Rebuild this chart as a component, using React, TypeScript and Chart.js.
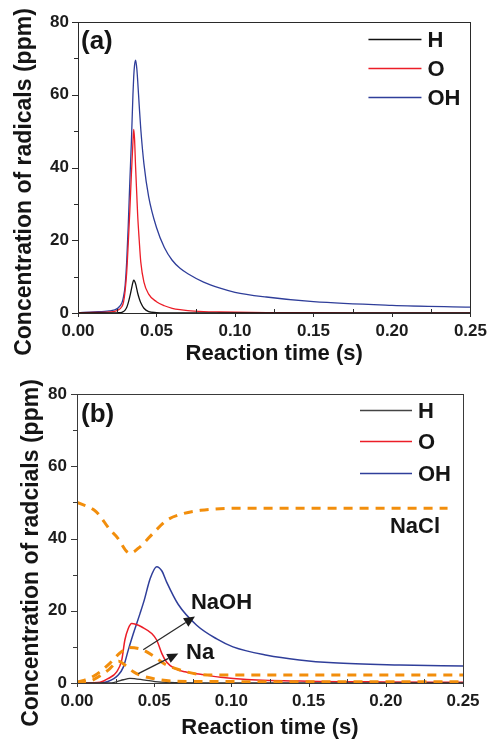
import { useEffect, useRef } from "react";
import { Chart, registerables } from "chart.js";

Chart.register(...registerables);

const FONT = "'Liberation Sans', Arial, Helvetica, sans-serif";

// ---------- Panel (a) ----------
const timeA = [0, 0.01, 0.02, 0.025, 0.028, 0.029, 0.03, 0.031, 0.032, 0.033, 0.034, 0.035, 0.0355, 0.036, 0.0367, 0.0375, 0.038, 0.039, 0.04, 0.042, 0.045, 0.05, 0.055, 0.06, 0.065, 0.07, 0.08, 0.09, 0.1, 0.12, 0.15, 0.2, 0.25];
const hA = [0, 0, 0, 0.05, 0.2, 0.4, 0.8, 1.5, 2.8, 4.5, 6.5, 8.5, 9, 8.8, 8, 6.5, 5.5, 4, 2.8, 1.3, 0.4, 0.1, 0, 0, 0, 0, 0, 0, 0, 0, 0, 0, 0];
const oA = [0.1, 0.15, 0.3, 0.7, 1.8, 3, 6, 11, 19, 28, 38, 47, 50.5, 48, 40, 32, 27, 20, 14, 8.5, 5.2, 3.1, 2, 1.3, 0.9, 0.65, 0.4, 0.28, 0.2, 0.12, 0.08, 0.05, 0.03];
const ohA = [0.1, 0.3, 0.6, 1.2, 2.8, 4.5, 7.5, 14, 24, 36, 47, 60, 65, 68, 69.5, 67, 64, 57, 50.5, 41, 32, 23.5, 18, 14.5, 12.3, 10.8, 8.5, 6.9, 5.7, 4.4, 3.1, 2.1, 1.6];

// ---------- Panel (b) ----------
const timeHB = [0, 0.02, 0.0224, 0.026, 0.03, 0.0343, 0.044, 0.0505, 0.06, 0.08, 0.25];
const hB = [0, 0, 0.05, 0.4, 0.9, 1.3, 0.8, 0.4, 0.15, 0.05, 0];
const timeOB = [0, 0.01, 0.015, 0.02, 0.0257, 0.029, 0.031, 0.0332, 0.0354, 0.0385, 0.042, 0.0484, 0.0516, 0.0549, 0.058, 0.0634, 0.07, 0.08, 0.093, 0.11, 0.15, 0.2, 0.25];
const oB = [0, 0.05, 0.2, 1.2, 3.1, 6.4, 11.9, 15.1, 16.5, 16.2, 15.5, 13.7, 11.9, 8.2, 5.8, 4, 3.1, 2.4, 1.6, 1.0, 0.5, 0.3, 0.2];
const timeOHB = [0, 0.015, 0.02, 0.0267, 0.03, 0.0332, 0.0365, 0.0408, 0.0436, 0.0473, 0.0516, 0.055, 0.058, 0.0655, 0.0775, 0.0905, 0.101, 0.123, 0.144, 0.166, 0.209, 0.25];
const ohB = [0, 0.1, 0.4, 2.2, 4.4, 9.1, 13.7, 19.2, 23, 28.8, 32.2, 31, 28, 21.8, 16, 12.2, 10, 7.7, 6.4, 5.6, 5, 4.7];
const timeNaClB = [0, 0.0125, 0.0214, 0.0257, 0.0343, 0.0408, 0.0494, 0.058, 0.068, 0.08, 0.112, 0.24];
const naclB = [50, 47.4, 42.4, 40.5, 35.9, 37.7, 41.5, 45, 46.8, 47.8, 48.4, 48.4];
const timeNaOHB = [0, 0.005, 0.012, 0.0214, 0.0278, 0.034, 0.0419, 0.0494, 0.057, 0.0667, 0.0775, 0.0905, 0.25];
const naohB = [0.3, 0.8, 2.2, 5.5, 8.3, 9.8, 9.3, 7.5, 5.2, 3.6, 2.5, 2.2, 2.2];
const timeNaB = [0, 0.01, 0.02, 0.027, 0.031, 0.0365, 0.042, 0.0484, 0.0613, 0.08, 0.25];
const naB = [0, 0.8, 3.5, 6, 5, 3.1, 2, 1.3, 0.55, 0.4, 0.35];

// ---------- Axes / labels ----------
const xTicks = [0, 0.05, 0.1, 0.15, 0.2, 0.25];
const yTicks = [0, 20, 40, 60, 80];
const legendLabels = ["H", "O", "OH"];
const xTitle = "Reaction time (s)";
const yTitleA = "Concentration of radicals (ppm)";
const yTitleB = "Concentration of radcials (ppm)";
const speciesNotes = ["NaOH", "Na", "NaCl"];
// note anchors in data units [x, y]
const noteNaOH = [0.0738, 22.1];
const noteNa = [0.0706, 8.4];
const noteNaCl = [0.2027, 43.2];
// arrows in data units [x0, y0, x1, y1]
const arrowNaOH = [0.0429, 9.2, 0.0764, 18.4];
const arrowNa = [0.0397, 2.6, 0.0656, 8.2];

const RED = "#ec1d27";
const BLUE = "#2f3e9a";
const ORANGE = "#f28e0c";

function series(t: number[], v: number[]) {
  return t.map((x, i) => ({ x, y: v[i] }));
}

type Decor = {
  legendColors: string[];
  legendLine: [number, number];
  legendText: number;
  legendRows: number[];
  panel: string;
  panelPos: [number, number];
  yTitle: string;
  yTitlePos: [number, number];
  notes: { text: string; at: number[] }[];
  arrows: number[][];
  frame: string;
};

function decorPlugin(d: Decor) {
  return {
    id: "decor",
    afterDraw(chart: any) {
      const { ctx, chartArea: ca, scales } = chart;
      const xs = scales.x;
      const ys = scales.y;
      ctx.save();
      // frame
      ctx.strokeStyle = d.frame;
      ctx.lineWidth = 1;
      ctx.strokeRect(Math.round(ca.left) + 0.5, Math.round(ca.top) + 0.5, Math.round(ca.right - ca.left), Math.round(ca.bottom - ca.top));
      // ticks
      ctx.beginPath();
      for (let i = 0; i < xTicks.length; i++) {
        const px = Math.round(xs.getPixelForValue(xTicks[i])) + 0.5;
        ctx.moveTo(px, ca.bottom);
        ctx.lineTo(px, ca.bottom + 4);
        if (i < xTicks.length - 1) {
          const mx = Math.round(xs.getPixelForValue((xTicks[i] + xTicks[i + 1]) / 2)) + 0.5;
          ctx.moveTo(mx, ca.bottom);
          ctx.lineTo(mx, ca.bottom - 4);
        }
      }
      for (let i = 0; i < yTicks.length; i++) {
        const py = Math.round(ys.getPixelForValue(yTicks[i])) + 0.5;
        ctx.moveTo(ca.left, py);
        ctx.lineTo(ca.left - 6, py);
        if (i < yTicks.length - 1) {
          const my = Math.round(ys.getPixelForValue((yTicks[i] + yTicks[i + 1]) / 2)) + 0.5;
          ctx.moveTo(ca.left, my);
          ctx.lineTo(ca.left - 4, my);
        }
      }
      ctx.stroke();
      // legend
      ctx.textBaseline = "middle";
      ctx.textAlign = "left";
      ctx.font = `bold 22px ${FONT}`;
      legendLabels.forEach((lab, i) => {
        const y = ca.top + d.legendRows[i] + 0.5;
        ctx.strokeStyle = d.legendColors[i];
        ctx.lineWidth = 1.4;
        ctx.beginPath();
        ctx.moveTo(ca.right - d.legendLine[0], y);
        ctx.lineTo(ca.right - d.legendLine[1], y);
        ctx.stroke();
        ctx.fillStyle = "#151515";
        ctx.fillText(lab, ca.right - d.legendText, y + 1);
      });
      // panel label
      ctx.font = `bold 26px ${FONT}`;
      ctx.fillText(d.panel, ca.left + d.panelPos[0], ca.top + d.panelPos[1]);
      // notes
      ctx.font = `bold 22px ${FONT}`;
      d.notes.forEach((n) => {
        ctx.fillText(n.text, xs.getPixelForValue(n.at[0]), ys.getPixelForValue(n.at[1]));
      });
      // arrows
      ctx.strokeStyle = "#2a2a2a";
      ctx.fillStyle = "#1a1a1a";
      ctx.lineWidth = 1.3;
      d.arrows.forEach((a) => {
        const x0 = xs.getPixelForValue(a[0]);
        const y0 = ys.getPixelForValue(a[1]);
        const x1 = xs.getPixelForValue(a[2]);
        const y1 = ys.getPixelForValue(a[3]);
        const ang = Math.atan2(y1 - y0, x1 - x0);
        const L = 11;
        const W = 5;
        const bx = x1 - L * Math.cos(ang);
        const by = y1 - L * Math.sin(ang);
        ctx.beginPath();
        ctx.moveTo(x0, y0);
        ctx.lineTo(bx, by);
        ctx.stroke();
        ctx.beginPath();
        ctx.moveTo(x1, y1);
        ctx.lineTo(bx + W * Math.sin(ang), by - W * Math.cos(ang));
        ctx.lineTo(bx - W * Math.sin(ang), by + W * Math.cos(ang));
        ctx.closePath();
        ctx.fill();
      });
      // y title
      ctx.fillStyle = "#151515";
      ctx.font = `bold 23px ${FONT}`;
      ctx.textAlign = "center";
      ctx.translate(d.yTitlePos[0], d.yTitlePos[1]);
      ctx.rotate(-Math.PI / 2);
      ctx.fillText(d.yTitle, 0, 0);
      ctx.restore();
    },
  };
}

function makeOptions(pad: { top: number; right: number }, yWidth: number, xHeight: number, yPad: number, titlePad: number) {
  return {
    responsive: false,
    animation: false as const,
    devicePixelRatio: 1,
    layout: { padding: { top: pad.top, right: pad.right, left: 0, bottom: 0 } },
    plugins: { legend: { display: false }, tooltip: { enabled: false } },
    elements: { point: { radius: 0 }, line: { cubicInterpolationMode: "monotone" as const, fill: false } },
    scales: {
      x: {
        type: "linear" as const,
        min: 0,
        max: 0.25,
        afterFit: (s: any) => {
          s.height = xHeight;
        },
        afterBuildTicks: (s: any) => {
          s.ticks = xTicks.map((v) => ({ value: v }));
        },
        grid: { display: false, drawTicks: false },
        border: { display: false },
        ticks: {
          autoSkip: false,
          maxRotation: 0,
          padding: 8,
          color: "#1c1c1c",
          font: { family: FONT, size: 17, weight: "bold" as const },
          callback: (v: any) => Number(v).toFixed(2),
        },
        title: {
          display: true,
          text: xTitle,
          color: "#151515",
          font: { family: FONT, size: 22, weight: "bold" as const },
          padding: { top: 0, bottom: titlePad },
        },
      },
      y: {
        min: 0,
        max: 80,
        afterFit: (s: any) => {
          s.width = yWidth;
        },
        afterBuildTicks: (s: any) => {
          s.ticks = yTicks.map((v) => ({ value: v }));
        },
        grid: { display: false, drawTicks: false },
        border: { display: false },
        ticks: {
          padding: yPad,
          color: "#1c1c1c",
          font: { family: FONT, size: 17, weight: "bold" as const },
        },
      },
    },
  };
}

export default function App() {
  const refA = useRef<HTMLCanvasElement | null>(null);
  const refB = useRef<HTMLCanvasElement | null>(null);

  useEffect(() => {
    const chartA = new Chart(refA.current as HTMLCanvasElement, {
      type: "line",
      data: {
        datasets: [
          { label: legendLabels[0], data: series(timeA, hA), borderColor: "#111111", borderWidth: 1.3 },
          { label: legendLabels[1], data: series(timeA, oA), borderColor: RED, borderWidth: 1.3 },
          { label: legendLabels[2], data: series(timeA, ohA), borderColor: BLUE, borderWidth: 1.3 },
        ],
      },
      options: makeOptions({ top: 22, right: 22 }, 78, 57, 9, 3) as any,
      plugins: [
        decorPlugin({
          legendColors: ["#111111", RED, BLUE],
          legendLine: [102, 49],
          legendText: 43,
          legendRows: [17, 46, 75],
          panel: "(a)",
          panelPos: [3, 20],
          yTitle: yTitleA,
          yTitlePos: [25, 182],
          notes: [],
          arrows: [],
          frame: "#2a2a2a",
        }),
      ],
    });

    const chartB = new Chart(refB.current as HTMLCanvasElement, {
      type: "line",
      data: {
        datasets: [
          { label: speciesNotes[2], data: series(timeNaClB, naclB), borderColor: ORANGE, borderWidth: 3, borderDash: [9, 7] },
          { label: speciesNotes[0], data: series(timeNaOHB, naohB), borderColor: ORANGE, borderWidth: 3, borderDash: [9, 7] },
          { label: speciesNotes[1], data: series(timeNaB, naB), borderColor: ORANGE, borderWidth: 3, borderDash: [9, 7] },
          { label: legendLabels[0], data: series(timeHB, hB), borderColor: "#333333", borderWidth: 1.3 },
          { label: legendLabels[1], data: series(timeOB, oB), borderColor: RED, borderWidth: 1.5 },
          { label: legendLabels[2], data: series(timeOHB, ohB), borderColor: BLUE, borderWidth: 1.5 },
        ],
      },
      options: makeOptions({ top: 24, right: 32 }, 77, 59, 10, 1) as any,
      plugins: [
        decorPlugin({
          legendColors: ["#444444", RED, BLUE],
          legendLine: [103, 51],
          legendText: 45,
          legendRows: [16, 47, 79],
          panel: "(b)",
          panelPos: [4, 21],
          yTitle: yTitleB,
          yTitlePos: [32, 183],
          notes: [
            { text: speciesNotes[0], at: noteNaOH },
            { text: speciesNotes[1], at: noteNa },
            { text: speciesNotes[2], at: noteNaCl },
          ],
          arrows: [arrowNaOH, arrowNa],
          frame: "#3a3a3a",
        }),
      ],
    });

    return () => {
      chartA.destroy();
      chartB.destroy();
    };
  }, []);

  return (
    <div style={{ position: "absolute", left: 0, top: 0, width: 495, height: 742, background: "#ffffff" }}>
      <canvas ref={refA} width={495} height={370} style={{ position: "absolute", left: 0, top: 0 }} />
      <canvas ref={refB} width={495} height={372} style={{ position: "absolute", left: 0, top: 370 }} />
    </div>
  );
}
